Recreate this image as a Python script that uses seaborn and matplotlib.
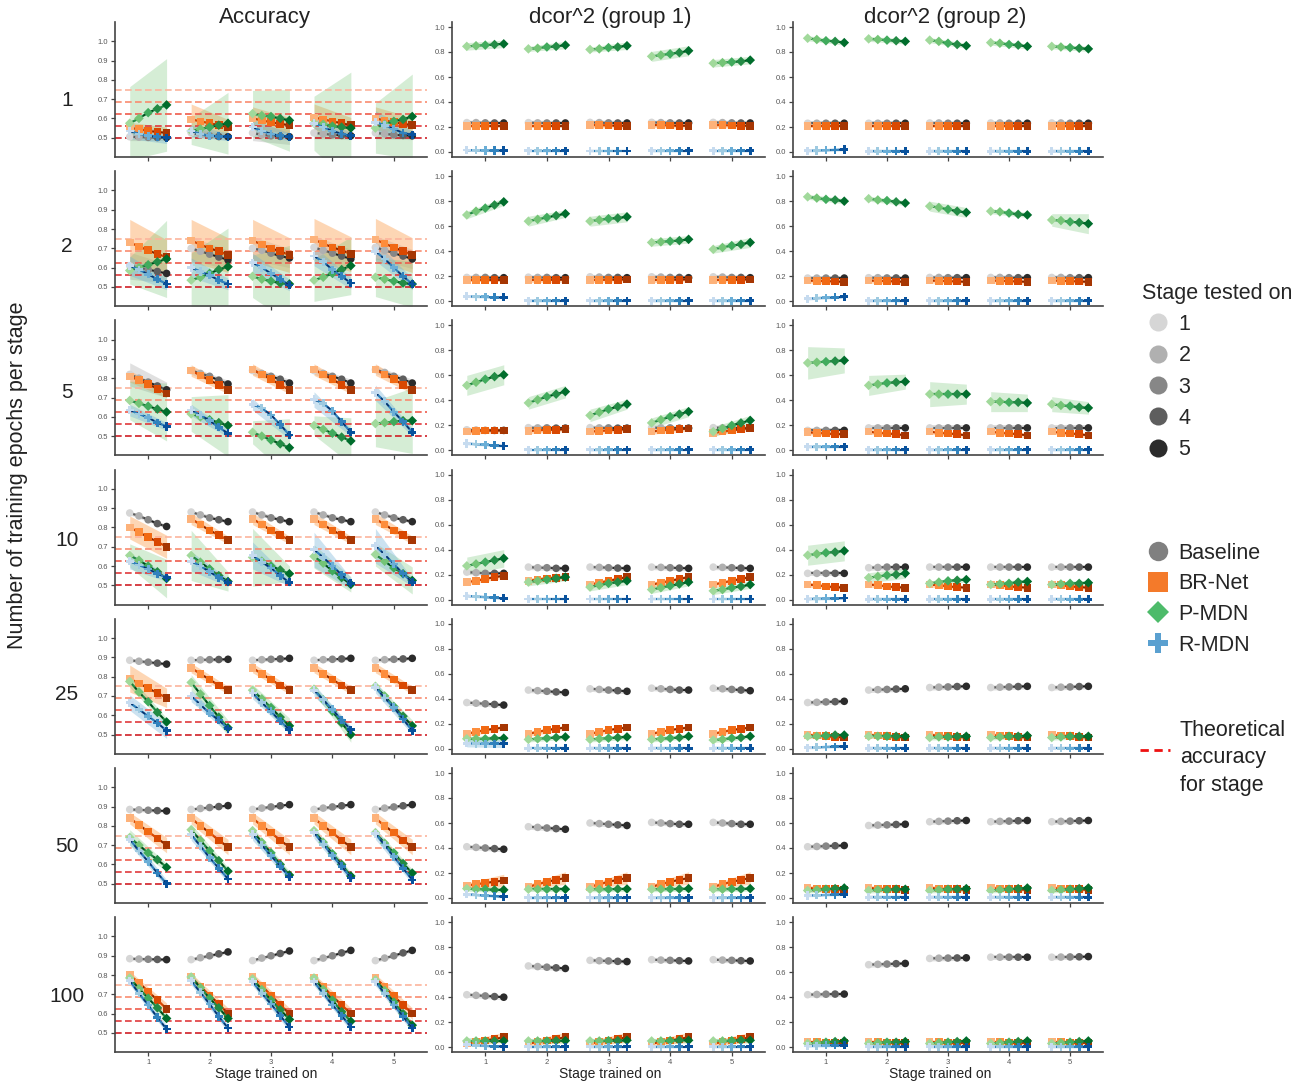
import matplotlib
matplotlib.use("Agg")
import matplotlib.pyplot as plt
import numpy as np
import pandas as pd
import seaborn as sns
from matplotlib.lines import Line2D

sns.set_theme(style="ticks")
plt.rcParams['font.family'] = ['Liberation Sans', 'DejaVu Sans']

# ---------------------------------------------------------------- data
epochs = ["1", "2", "5", "10", "25", "50", "100"]
stages = [1, 2, 3, 4, 5]
models = ["Baseline", "BR-Net", "P-MDN", "R-MDN"]
column_titles = ["Accuracy", "dcor^2 (group 1)", "dcor^2 (group 2)"]
theoretical_acc = [0.5, 0.5625, 0.625, 0.6875, 0.75]

# values[row = epochs][stage trained on][stage tested on]
acc_baseline = [
    [[.505, .503, .502, .501, .501], [.525, .515, .51, .506, .505], [.525, .515, .51, .507, .505], [.525, .52, .515, .512, .51], [.525, .52, .515, .512, .51]],
    [[.61, .60, .59, .58, .57], [.70, .685, .67, .655, .64], [.70, .69, .675, .66, .65], [.705, .69, .675, .66, .645], [.705, .69, .675, .66, .645]],
    [[.82, .80, .78, .76, .74], [.84, .825, .81, .79, .77], [.84, .825, .81, .795, .775], [.84, .825, .81, .795, .775], [.845, .83, .81, .795, .775]],
    [[.875, .86, .84, .82, .805], [.88, .865, .85, .84, .83], [.88, .865, .85, .84, .83], [.88, .865, .85, .84, .83], [.88, .865, .85, .84, .83]],
    [[.885, .88, .875, .87, .865], [.885, .887, .888, .889, .89], [.885, .888, .89, .892, .895], [.885, .888, .89, .892, .895], [.885, .888, .89, .892, .895]],
    [[.885, .883, .881, .879, .877], [.885, .89, .895, .90, .905], [.885, .892, .898, .904, .91], [.885, .892, .898, .904, .91], [.885, .892, .898, .904, .91]],
    [[.885, .883, .882, .881, .88], [.88, .89, .90, .91, .92], [.875, .888, .90, .912, .925], [.875, .888, .90, .915, .928], [.875, .888, .90, .915, .928]],
]
acc_brnet = [
    [[.55, .545, .535, .53, .525], [.595, .585, .575, .565, .555], [.60, .59, .58, .572, .565], [.605, .595, .585, .575, .565], [.60, .59, .58, .572, .565]],
    [[.73, .71, .69, .67, .655], [.74, .72, .70, .685, .665], [.74, .72, .70, .685, .665], [.745, .725, .705, .69, .67], [.745, .725, .705, .685, .665]],
    [[.81, .79, .77, .745, .72], [.84, .815, .79, .765, .74], [.845, .82, .795, .765, .74], [.845, .82, .795, .765, .74], [.845, .82, .795, .765, .74]],
    [[.80, .775, .75, .725, .70], [.845, .815, .785, .76, .735], [.845, .815, .785, .76, .735], [.845, .815, .785, .76, .735], [.845, .815, .785, .76, .735]],
    [[.79, .765, .74, .715, .69], [.845, .815, .785, .755, .73], [.845, .815, .785, .755, .73], [.845, .815, .785, .755, .73], [.845, .815, .785, .755, .73]],
    [[.84, .805, .77, .735, .70], [.84, .80, .765, .725, .69], [.84, .80, .765, .725, .69], [.84, .80, .765, .725, .69], [.84, .80, .765, .725, .69]],
    [[.80, .76, .715, .67, .625], [.79, .74, .695, .65, .60], [.79, .745, .695, .645, .60], [.785, .74, .69, .645, .60], [.785, .74, .69, .645, .60]],
]
acc_pmdn = [
    [[.575, .60, .63, .65, .67], [.535, .545, .555, .565, .575], [.625, .615, .61, .60, .59], [.575, .57, .56, .555, .55], [.55, .57, .585, .595, .61]],
    [[.585, .60, .615, .63, .645], [.535, .55, .57, .59, .605], [.555, .54, .53, .52, .515], [.535, .55, .57, .59, .61], [.55, .54, .53, .52, .515]],
    [[.685, .67, .655, .64, .625], [.615, .60, .585, .57, .555], [.52, .50, .48, .46, .44], [.555, .535, .515, .495, .475], [.565, .57, .575, .58, .58]],
    [[.655, .63, .60, .57, .535], [.655, .62, .585, .55, .52], [.645, .625, .60, .58, .56], [.65, .615, .575, .54, .505], [.66, .625, .59, .56, .525]],
    [[.775, .72, .67, .615, .565], [.77, .71, .65, .59, .535], [.73, .685, .64, .59, .545], [.735, .68, .62, .56, .50], [.75, .70, .645, .595, .545]],
    [[.74, .70, .66, .625, .585], [.78, .725, .67, .62, .565], [.775, .715, .66, .60, .545], [.775, .715, .655, .60, .54], [.765, .71, .66, .605, .555]],
    [[.785, .73, .68, .63, .575], [.79, .735, .68, .63, .575], [.78, .725, .67, .62, .57], [.785, .725, .67, .61, .56], [.775, .72, .66, .60, .54]],
]
acc_rmdn = [
    [[.535, .52, .51, .505, .50], [.535, .52, .51, .508, .505], [.555, .535, .52, .51, .505], [.575, .555, .535, .52, .51], [.58, .565, .545, .525, .515]],
    [[.61, .59, .565, .54, .515], [.60, .58, .56, .535, .515], [.625, .60, .57, .54, .51], [.66, .63, .59, .555, .52], [.685, .645, .60, .555, .515]],
    [[.635, .615, .595, .57, .55], [.635, .61, .58, .545, .515], [.665, .645, .61, .56, .505], [.69, .67, .63, .575, .52], [.725, .68, .625, .575, .52]],
    [[.625, .605, .585, .56, .54], [.625, .60, .57, .54, .515], [.655, .62, .59, .55, .515], [.685, .645, .60, .555, .51], [.705, .66, .61, .56, .515]],
    [[.665, .63, .595, .56, .52], [.70, .655, .61, .575, .53], [.715, .665, .62, .57, .525], [.73, .68, .63, .575, .525], [.745, .69, .64, .58, .52]],
    [[.73, .67, .615, .555, .50], [.755, .695, .635, .58, .525], [.755, .70, .645, .59, .535], [.765, .705, .645, .59, .53], [.76, .70, .64, .58, .52]],
    [[.77, .705, .645, .58, .52], [.77, .71, .65, .585, .525], [.765, .705, .65, .59, .53], [.765, .705, .645, .59, .53], [.765, .705, .645, .585, .525]],
]

dc1_baseline = [
    [[.235, .235, .233, .232, .232], [.235, .233, .232, .232, .232], [.237, .235, .233, .232, .232], [.237, .235, .233, .232, .232], [.237, .235, .233, .232, .232]],
    [[.19, .19, .19, .188, .188], [.192, .19, .19, .188, .188], [.195, .193, .19, .19, .188], [.195, .193, .19, .19, .188], [.195, .193, .19, .19, .188]],
    [[.165, .162, .16, .16, .16], [.182, .18, .18, .178, .178], [.182, .18, .18, .178, .178], [.182, .18, .18, .178, .178], [.182, .18, .18, .178, .178]],
    [[.22, .215, .21, .21, .21], [.26, .255, .255, .25, .25], [.26, .258, .255, .252, .25], [.26, .258, .255, .252, .25], [.26, .258, .255, .252, .25]],
    [[.37, .365, .36, .355, .35], [.47, .465, .46, .455, .45], [.48, .475, .47, .465, .46], [.485, .48, .475, .47, .47], [.485, .48, .475, .47, .465]],
    [[.41, .405, .40, .395, .39], [.57, .565, .56, .555, .55], [.60, .595, .59, .585, .58], [.605, .60, .595, .59, .59], [.605, .60, .595, .59, .59]],
    [[.42, .415, .41, .405, .40], [.65, .645, .64, .635, .63], [.695, .692, .69, .687, .685], [.70, .697, .695, .692, .69], [.70, .697, .695, .692, .69]],
]
dc1_brnet = [
    [[.21, .21, .21, .21, .21], [.21, .21, .21, .21, .21], [.215, .215, .212, .21, .21], [.215, .215, .212, .21, .21], [.215, .215, .212, .21, .21]],
    [[.17, .17, .17, .17, .17], [.17, .17, .17, .172, .172], [.17, .17, .172, .172, .175], [.17, .17, .172, .172, .175], [.17, .17, .172, .172, .175]],
    [[.15, .155, .16, .16, .16], [.155, .16, .165, .165, .17], [.15, .155, .16, .165, .17], [.15, .16, .165, .17, .175], [.14, .15, .16, .17, .18]],
    [[.14, .15, .165, .18, .19], [.15, .16, .17, .175, .18], [.12, .135, .15, .165, .18], [.12, .135, .15, .165, .18], [.12, .135, .15, .165, .18]],
    [[.12, .135, .15, .16, .17], [.12, .135, .15, .16, .17], [.12, .135, .15, .16, .17], [.12, .135, .15, .16, .17], [.12, .135, .15, .16, .17]],
    [[.10, .11, .12, .13, .14], [.09, .11, .13, .145, .16], [.09, .11, .13, .145, .16], [.09, .11, .13, .145, .16], [.09, .11, .13, .145, .16]],
    [[.03, .04, .055, .065, .08], [.03, .04, .055, .065, .08], [.03, .04, .055, .065, .08], [.03, .04, .055, .065, .08], [.03, .04, .055, .065, .08]],
]
dc1_pmdn = [
    [[.845, .85, .855, .86, .865], [.825, .83, .84, .845, .855], [.82, .825, .835, .84, .85], [.765, .775, .785, .795, .81], [.71, .715, .72, .725, .735]],
    [[.69, .72, .745, .77, .795], [.64, .655, .67, .685, .70], [.64, .65, .66, .665, .675], [.47, .475, .48, .485, .495], [.415, .43, .445, .455, .47]],
    [[.52, .545, .57, .59, .605], [.38, .405, .43, .45, .47], [.28, .305, .33, .35, .37], [.22, .245, .27, .29, .31], [.15, .175, .20, .22, .24]],
    [[.27, .285, .30, .315, .33], [.14, .15, .16, .17, .18], [.10, .115, .13, .14, .15], [.08, .095, .11, .125, .14], [.07, .08, .095, .105, .12]],
    [[.08, .08, .08, .085, .085], [.075, .08, .085, .09, .095], [.075, .08, .085, .09, .095], [.075, .08, .085, .09, .10], [.07, .075, .085, .09, .10]],
    [[.075, .07, .07, .065, .065], [.07, .07, .07, .07, .07], [.07, .07, .07, .072, .072], [.07, .07, .072, .072, .075], [.07, .07, .072, .072, .075]],
    [[.05, .05, .05, .05, .05], [.05, .05, .05, .052, .052], [.05, .05, .052, .052, .055], [.05, .05, .052, .055, .055], [.05, .05, .052, .055, .055]],
]
dc1_rmdn = [
    [[.015, .015, .012, .012, .012], [.01, .01, .01, .01, .01], [.008, .008, .008, .008, .008], [.01, .01, .01, .01, .01], [.01, .01, .01, .01, .01]],
    [[.04, .035, .035, .03, .03], [.005, .005, .005, .005, .005], [.005, .005, .005, .005, .005], [.005, .005, .005, .005, .005], [.005, .005, .005, .005, .005]],
    [[.055, .05, .045, .04, .035], [.005, .005, .005, .005, .005], [.005, .005, .005, .005, .005], [.005, .005, .005, .005, .005], [.005, .005, .005, .005, .005]],
    [[.03, .025, .02, .015, .01], [.005, .005, .005, .005, .005], [.005, .005, .005, .005, .005], [.005, .005, .005, .005, .005], [.005, .005, .005, .005, .005]],
    [[.045, .04, .04, .04, .04], [.005, .005, .005, .005, .005], [.005, .005, .005, .005, .005], [.005, .005, .005, .005, .005], [.005, .005, .005, .005, .005]],
    [[.03, .025, .02, .015, .01], [.003, .003, .003, .003, .003], [.003, .003, .003, .003, .003], [.003, .003, .003, .003, .003], [.003, .003, .003, .003, .003]],
    [[.02, .015, .01, .008, .005], [.003, .003, .003, .003, .003], [.003, .003, .003, .003, .003], [.003, .003, .003, .003, .003], [.003, .003, .003, .003, .003]],
]

dc2_baseline = [
    [[.23, .23, .23, .23, .23], [.23, .23, .23, .23, .23], [.232, .232, .23, .23, .23], [.232, .232, .23, .23, .23], [.232, .232, .23, .23, .23]],
    [[.185, .185, .185, .185, .185], [.188, .188, .186, .186, .185], [.19, .19, .188, .188, .188], [.19, .19, .188, .188, .188], [.19, .19, .188, .188, .188]],
    [[.16, .16, .16, .16, .16], [.18, .18, .18, .18, .18], [.18, .18, .18, .18, .18], [.18, .18, .18, .18, .18], [.18, .18, .18, .18, .18]],
    [[.21, .21, .21, .21, .21], [.255, .257, .26, .26, .26], [.26, .26, .26, .26, .26], [.26, .26, .26, .26, .26], [.26, .26, .26, .26, .26]],
    [[.37, .372, .375, .377, .38], [.47, .473, .475, .478, .48], [.49, .493, .495, .498, .50], [.49, .493, .495, .498, .50], [.49, .493, .495, .498, .50]],
    [[.41, .412, .415, .418, .42], [.58, .583, .585, .588, .59], [.61, .613, .615, .618, .62], [.61, .613, .615, .618, .62], [.61, .613, .615, .618, .62]],
    [[.42, .422, .424, .425, .425], [.66, .663, .665, .668, .67], [.71, .712, .713, .714, .715], [.72, .72, .72, .72, .72], [.72, .721, .722, .723, .725]],
]
dc2_brnet = [
    [[.21, .21, .21, .21, .21], [.21, .21, .21, .21, .21], [.21, .21, .21, .21, .21], [.21, .21, .21, .21, .21], [.21, .21, .21, .21, .21]],
    [[.165, .163, .16, .158, .155], [.165, .163, .16, .158, .155], [.165, .163, .16, .158, .155], [.165, .163, .16, .158, .155], [.165, .163, .16, .158, .155]],
    [[.145, .14, .135, .13, .13], [.15, .14, .135, .13, .12], [.15, .14, .135, .13, .12], [.15, .14, .135, .13, .12], [.15, .14, .135, .13, .12]],
    [[.12, .115, .105, .10, .095], [.12, .115, .105, .10, .095], [.12, .115, .105, .10, .095], [.12, .115, .105, .10, .095], [.12, .115, .105, .10, .095]],
    [[.11, .105, .10, .095, .09], [.11, .105, .10, .095, .09], [.11, .105, .10, .095, .09], [.11, .105, .10, .095, .09], [.11, .105, .10, .095, .09]],
    [[.08, .075, .07, .07, .065], [.08, .075, .07, .07, .065], [.08, .075, .07, .07, .065], [.08, .075, .07, .07, .065], [.08, .075, .07, .07, .065]],
    [[.04, .04, .035, .035, .035], [.04, .04, .035, .035, .035], [.04, .04, .035, .035, .035], [.04, .04, .035, .035, .035], [.04, .04, .035, .035, .035]],
]
dc2_pmdn = [
    [[.91, .90, .89, .885, .875], [.905, .90, .895, .89, .885], [.895, .885, .87, .86, .85], [.875, .87, .86, .855, .845], [.845, .84, .835, .83, .825]],
    [[.835, .825, .815, .81, .80], [.82, .81, .805, .795, .785], [.76, .75, .735, .72, .71], [.72, .715, .705, .695, .69], [.65, .645, .635, .63, .62]],
    [[.70, .705, .71, .715, .72], [.52, .53, .54, .545, .55], [.45, .45, .45, .45, .45], [.39, .39, .385, .385, .38], [.37, .36, .355, .345, .34]],
    [[.355, .365, .375, .38, .39], [.175, .185, .195, .20, .21], [.13, .14, .15, .155, .16], [.12, .125, .13, .14, .145], [.12, .125, .13, .13, .135]],
    [[.10, .10, .105, .11, .11], [.10, .10, .10, .10, .10], [.09, .095, .095, .10, .10], [.09, .095, .10, .10, .105], [.09, .095, .10, .10, .10]],
    [[.06, .065, .07, .075, .08], [.06, .065, .065, .07, .07], [.06, .065, .07, .07, .075], [.06, .065, .07, .075, .08], [.06, .065, .07, .075, .08]],
    [[.03, .035, .04, .045, .05], [.03, .035, .04, .04, .045], [.03, .035, .04, .045, .05], [.03, .035, .04, .045, .05], [.03, .035, .04, .045, .05]],
]
dc2_rmdn = [
    [[.01, .012, .015, .017, .02], [.005, .005, .005, .005, .005], [.005, .005, .005, .005, .005], [.005, .005, .005, .005, .005], [.005, .005, .005, .005, .005]],
    [[.02, .025, .028, .03, .035], [.005, .005, .005, .005, .005], [.005, .005, .005, .005, .005], [.005, .005, .005, .005, .005], [.005, .005, .005, .005, .005]],
    [[.03, .03, .03, .03, .03], [.005, .005, .005, .005, .005], [.005, .005, .005, .005, .005], [.005, .005, .005, .005, .005], [.005, .005, .005, .005, .005]],
    [[.005, .007, .009, .01, .012], [.003, .003, .003, .003, .003], [.003, .003, .003, .003, .003], [.003, .003, .003, .003, .003], [.003, .003, .003, .003, .003]],
    [[.01, .012, .015, .018, .02], [.005, .005, .005, .005, .005], [.005, .005, .005, .005, .005], [.005, .005, .005, .005, .005], [.005, .005, .005, .005, .005]],
    [[.02, .022, .025, .028, .03], [.005, .005, .005, .005, .005], [.005, .005, .005, .005, .005], [.005, .005, .005, .005, .005], [.005, .005, .005, .005, .005]],
    [[.01, .012, .015, .015, .015], [.005, .005, .005, .005, .005], [.005, .005, .005, .005, .005], [.005, .005, .005, .005, .005], [.005, .005, .005, .005, .005]],
]

# band half-widths [row][stage trained on] = (first tested stage, last tested stage)
acc_baseline_band = [
    [[.02, .015], [.02, .015], [.04, .04], [.03, .02], [.03, .02]],
    [[.07, .05], [.06, .05], [.06, .05], [.06, .05], [.06, .05]],
    [[.06, .04], [.02, .02], [.02, .02], [.02, .02], [.02, .02]],
    [[.01, .01], [.01, .01], [.01, .01], [.01, .01], [.01, .01]],
    [[.01, .01], [.01, .01], [.01, .01], [.01, .01], [.01, .01]],
    [[.01, .01], [.01, .01], [.01, .01], [.01, .01], [.01, .01]],
    [[.01, .01], [.01, .01], [.01, .01], [.01, .01], [.01, .01]],
]
acc_brnet_band = [
    [[.03, .03], [.08, .04], [.06, .04], [.07, .04], [.06, .04]],
    [[.12, .09], [.11, .09], [.11, .09], [.11, .09], [.11, .09]],
    [[.03, .02], [.03, .02], [.03, .02], [.03, .02], [.03, .02]],
    [[.06, .06], [.03, .02], [.03, .02], [.03, .02], [.03, .02]],
    [[.07, .05], [.025, .02], [.025, .02], [.025, .02], [.025, .02]],
    [[.03, .04], [.03, .04], [.03, .04], [.03, .04], [.03, .04]],
    [[.02, .03], [.02, .03], [.02, .03], [.02, .03], [.02, .03]],
]
acc_pmdn_band = [
    [[.19, .24], [.07, .16], [.12, .16], [.14, .29], [.13, .22]],
    [[.07, .20], [.14, .20], [.11, .20], [.11, .15], [.10, .12]],
    [[.10, .15], [.09, .16], [.06, .15], [.05, .12], [.12, .17]],
    [[.06, .10], [.13, .05], [.15, .04], [.06, .04], [.06, .07]],
    [[.03, .02], [.04, .04], [.03, .04], [.02, .04], [.02, .03]],
    [[.04, .02], [.03, .02], [.02, .02], [.02, .02], [.02, .02]],
    [[.02, .02], [.02, .02], [.02, .02], [.02, .02], [.02, .02]],
]
acc_rmdn_band = [
    [[.04, .03], [.03, .02], [.04, .02], [.03, .02], [.06, .02]],
    [[.05, .03], [.05, .03], [.05, .03], [.05, .03], [.05, .03]],
    [[.03, .02], [.03, .02], [.03, .02], [.04, .02], [.04, .02]],
    [[.04, .02], [.05, .02], [.07, .02], [.09, .03], [.09, .02]],
    [[.04, .04], [.03, .02], [.03, .02], [.03, .02], [.03, .02]],
    [[.03, .02], [.03, .02], [.03, .02], [.03, .02], [.03, .02]],
    [[.02, .02], [.02, .02], [.02, .02], [.02, .02], [.02, .02]],
]

dc1_baseline_band = [[[.02, .02]] * 5 for _ in range(7)]
dc1_brnet_band = [[[.02, .02]] * 5] * 5 + [[[.02, .05]] * 5, [[.02, .04]] * 5]
dc1_pmdn_band = [
    [[.03, .03], [.02, .03], [.02, .03], [.04, .04], [.03, .03]],
    [[.03, .03], [.04, .03], [.04, .04], [.03, .03], [.03, .04]],
    [[.08, .08], [.05, .05], [.05, .04], [.04, .04], [.04, .04]],
    [[.07, .07], [.03, .03], [.03, .03], [.03, .03], [.03, .03]],
    [[.02, .02], [.02, .02], [.02, .02], [.02, .02], [.02, .02]],
    [[.02, .02], [.02, .02], [.02, .02], [.02, .02], [.02, .02]],
    [[.02, .02], [.02, .02], [.02, .02], [.02, .02], [.02, .02]],
]
dc1_rmdn_band = [[[.01, .01]] * 5] * 4 + [[[.03, .03]] + [[.01, .01]] * 4] + [[[.01, .01]] * 5] * 2

dc2_baseline_band = [[[.02, .02]] * 5 for _ in range(7)]
dc2_brnet_band = [[[.02, .02]] * 5 for _ in range(7)]
dc2_pmdn_band = [
    [[.02, .02], [.02, .02], [.02, .02], [.02, .02], [.02, .02]],
    [[.02, .02], [.02, .02], [.04, .04], [.02, .02], [.05, .08]],
    [[.13, .10], [.08, .06], [.10, .08], [.08, .07], [.06, .05]],
    [[.08, .08], [.04, .04], [.02, .02], [.02, .02], [.02, .02]],
    [[.02, .02], [.02, .02], [.02, .02], [.02, .02], [.02, .02]],
    [[.02, .02], [.02, .02], [.02, .02], [.02, .02], [.02, .02]],
    [[.02, .02], [.02, .02], [.02, .02], [.02, .02], [.02, .02]],
]
dc2_rmdn_band = [[[.01, .01]] * 5 for _ in range(7)]

columns = [
    [acc_baseline, acc_brnet, acc_pmdn, acc_rmdn],
    [dc1_baseline, dc1_brnet, dc1_pmdn, dc1_rmdn],
    [dc2_baseline, dc2_brnet, dc2_pmdn, dc2_rmdn],
]
column_bands = [
    [acc_baseline_band, acc_brnet_band, acc_pmdn_band, acc_rmdn_band],
    [dc1_baseline_band, dc1_brnet_band, dc1_pmdn_band, dc1_rmdn_band],
    [dc2_baseline_band, dc2_brnet_band, dc2_pmdn_band, dc2_rmdn_band],
]

# ---------------------------------------------------------------- styles
shades = {
    "Baseline": ['#d6d6d6', '#b0b0b0', '#878787', '#5e5e5e', '#2b2b2b'],
    "BR-Net": ['#fdb27a', '#fd8d3c', '#f16913', '#d94801', '#a63603'],
    "P-MDN": ['#a1d99b', '#74c476', '#41ab5d', '#238b45', '#006d2c'],
    "R-MDN": ['#c6dbef', '#9ecae1', '#6baed6', '#3182bd', '#08519c'],
}
dash_color = {"Baseline": '#1a1a1a', "BR-Net": '#7f2704', "P-MDN": '#00441b', "R-MDN": '#08306b'}
band_color = {"Baseline": ('#a8a8a8', 0.35), "BR-Net": ('#fdae6b', 0.5),
              "P-MDN": ('#74c476', 0.3), "R-MDN": ('#6baed6', 0.35)}
marker = {"Baseline": 'o', "BR-Net": 's', "P-MDN": 'D', "R-MDN": 'P'}
msize = {"Baseline": 30, "BR-Net": 30, "P-MDN": 24, "R-MDN": 34}
legend_color = {"Baseline": '#808080', "BR-Net": '#f47a2a', "P-MDN": '#4dbb6a', "R-MDN": '#5aa0d0'}
red_lines = ['#cf1f26', '#e0393c', '#ef5b4c', '#f98c70', '#fcb49c']
offsets = [-0.3, -0.15, 0.0, 0.15, 0.3]

W, H = 1299, 1085
fig = plt.figure(figsize=(W / 100, H / 100), dpi=100)

col_left = [115, 452, 793]
col_width = [312, 313, 310]
row_tops = [22 + 149.2 * i for i in range(7)]
row_h = 135

for r in range(7):
    for c in range(3):
        ax = fig.add_axes([col_left[c] / W, 1 - (row_tops[r] + row_h) / H,
                           col_width[c] / W, row_h / H])
        # shaded bands
        for m, mname in enumerate(models):
            vals = columns[c][m][r]
            bands = column_bands[c][m][r]
            bc, ba = band_color[mname]
            for s in range(5):
                xs = [stages[s] + offsets[0], stages[s] + offsets[-1]]
                v0, v1 = vals[s][0], vals[s][-1]
                w0, w1 = bands[s]
                ax.fill_between(xs, [v0 - w0, v1 - w1], [v0 + w0, v1 + w1],
                                color=bc, alpha=ba, lw=0, zorder=1)
        if c == 0:
            for tv, rc in zip(theoretical_acc, red_lines):
                ax.axhline(tv, color=rc, ls=(0, (4, 2)), lw=1.2, zorder=1.5)
        # lines and markers
        for m, mname in enumerate(models):
            vals = columns[c][m][r]
            rows = []
            for s in range(5):
                xs = [stages[s] + o for o in offsets]
                ax.plot(xs, vals[s], color=shades[mname][3], lw=1.6, zorder=2 + m)
                ax.plot(xs, vals[s], color=dash_color[mname], lw=1.1,
                        ls=(0, (2.5, 2.5)), zorder=2 + m)
                for t in range(5):
                    rows.append({"x": xs[t], "value": vals[s][t], "tested": t + 1})
            df = pd.DataFrame(rows)
            sns.scatterplot(data=df, x="x", y="value", hue="tested",
                            palette=dict(zip(stages, shades[mname])),
                            marker=marker[mname], s=msize[mname], linewidth=0,
                            legend=False, ax=ax, zorder=2.5 + m)
        ax.set_xlim(0.46, 5.54)
        ax.set_xticks(stages)
        if c == 0:
            ax.set_ylim(0.40, 1.10)
            ax.set_yticks([0.5, 0.6, 0.7, 0.8, 0.9, 1.0])
        else:
            ax.set_ylim(-0.04, 1.04)
            ax.set_yticks([0.0, 0.2, 0.4, 0.6, 0.8, 1.0])
        ax.yaxis.set_major_formatter(matplotlib.ticker.FormatStrFormatter('%.1f'))
        ax.set_xlabel("")
        ax.set_ylabel("")
        if r < 6:
            ax.set_xticklabels([])
        ax.tick_params(axis='both', labelsize=5.5, labelcolor='#555555', color='#444444',
                       length=3, width=0.9, pad=2)
        for sp in ("left", "bottom"):
            ax.spines[sp].set_color('#444444')
            ax.spines[sp].set_linewidth(1.2)
        sns.despine(ax=ax)

# titles and labels
title_x = [265, 610, 945]
for tx, t in zip(title_x, column_titles):
    fig.text(tx / W, 1 - 18 / H, t, ha='center', va='center', fontsize=16, color='#222222')
row_y = [100, 246, 392, 541, 695, 846, 996]
for ry, e in zip(row_y, epochs):
    fig.text(67 / W, 1 - ry / H, e, ha='center', va='center', fontsize=15, color='#222222')
fig.text(18 / W, 1 - 475 / H, "Number of training epochs per stage", rotation=90,
         ha='center', va='center', fontsize=15.5, color='#222222')
xlab_x = [266, 610, 940]
for xx in xlab_x:
    fig.text(xx / W, 1 - 1074 / H, "Stage trained on", ha='center', va='center',
             fontsize=10, color='#222222')

# legends
stage_handles = [Line2D([], [], ls='', marker='o', markersize=13, markeredgewidth=0,
                        color=shades["Baseline"][i]) for i in range(5)]
leg1 = fig.legend(stage_handles, [str(s) for s in stages], title="Stage tested on",
                  loc='upper left', bbox_to_anchor=(1133 / W, 1 - 274 / H), frameon=False,
                  fontsize=15.5, title_fontsize=15.5, labelspacing=0.48, handlelength=1.56,
                  handletextpad=0.15, borderaxespad=0, alignment='left')
model_handles = [Line2D([], [], ls='', marker=marker[mn], markersize=14 if mn != "P-MDN" else 11,
                        markeredgewidth=0, color=legend_color[mn]) for mn in models]
leg2 = fig.legend(model_handles, models, loc='upper left', bbox_to_anchor=(1133 / W, 1 - 534 / H),
                  frameon=False, fontsize=15.5, labelspacing=0.45, handlelength=1.56,
                  handletextpad=0.15, borderaxespad=0)

# theoretical-accuracy key
fig.add_artist(Line2D([1140 / W, 1170 / W], [1 - 750 / H, 1 - 750 / H], color='#ee1111',
                      ls=(0, (3, 2)), lw=2))
fig.text(1180 / W, 1 - 731 / H, "Theoretical", ha='left', va='center', fontsize=15.5, color='#222222')
fig.text(1180 / W, 1 - 758 / H, "accuracy", ha='left', va='center', fontsize=15.5, color='#222222')
fig.text(1180 / W, 1 - 786 / H, "for stage", ha='left', va='center', fontsize=15.5, color='#222222')

fig.savefig("out.png", dpi=100)
